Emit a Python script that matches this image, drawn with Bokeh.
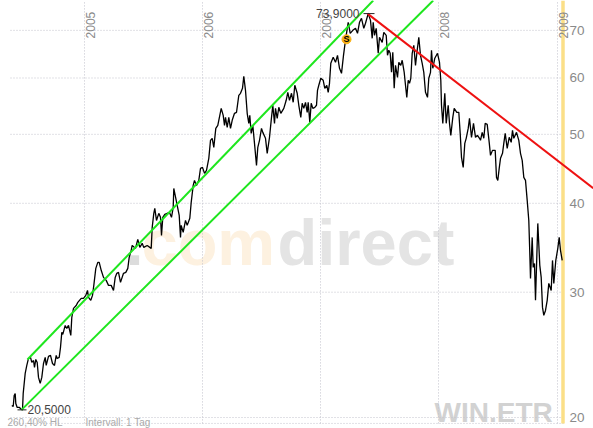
from math import pi
from bokeh.plotting import figure
from bokeh.models import Range1d
from bokeh.core.properties import value
from bokeh.embed import file_html
from bokeh.resources import INLINE

# x axis: chart session number (about 118 sessions per calendar year)
sessions = [
 11.3,12.7,13.7,14.7,15.3,16.7,19,20.7,22,22.7,23.7,24.7,26.3,28,30,31.3,33,34,35.3,36.7,38,39.7,41.3,43,44.7,45.7,48,50,52,54,55.7,56.7,58.7,60,61.3,62.3,64.7,66.3,68,70.3,71.3,73,75.7,77.3,79,80.7,83,85.3,87,88,90.3,92,93.3,95.3,97.3,98.7,100.7,103,105.7,108,110.7,113,114.7,116.3,118,120,123,125.3,127.3,128.7,130.7,
 131.7,135,137.3,139.3,141.7,143.3,146.7,150.7,151.7,153.3,154.3,156,158.3,160,161,162.3,164.3,166.7,169,171,172.7,173.3,174.7,176.7,178.7,180,180.7,182.7,185,186.7,189.3,190.7,192.7,194,196,198.3,200,202,204,206,208.3,210,211.7,213.3,215.3,217.3,218.7,220.7,222.7,224,225,226.7,228.3,230,231.7,234,236,238.3,240,242,243.3,245,246.7,248.3,249.3,250.7,252.3,254,256,257.3,
 259,261,262.3,265,266.7,269,270.7,272.3,274,275,276.7,278.3,280.3,283.3,285.7,287.3,289,291,292.7,294.3,296.7,298.3,300.3,301.7,303.3,305,306.7,307.7,309.3,310.7,312.3,314.3,316,317,318.3,320.3,322.7,324.3,326.3,327.7,329,330.3,332.7,335,337,339,341,343,344.3,345.7,347.7,349.7,352.3,355,357,359,361,363.3,365,367.7,370,371.7,372.7,374,375.7,377.7,379,
 381.7,383.3,385.7,387,388.3,389.7,391,392.3,393.7,395,397,398.3,400.3,401.7,403.7,405,406.3,407.7,409,410.3,411.7,413.3,415,416.7,418.3,420,421.7,423.3,425,427,428.3,430,431,432.3,434.3,437,439,440.3,441,442.3,444.3,445.7,447.7,449,450.3,452.3,453.7,456.3,458.3,459.7,461,462.7,464.3,465.7,467.7,469,471,473,475,477,479,
 480,481.7,483.3,484.7,486.7,488.7,490,492,494.7,496,497.3,498.7,500,502,503.3,504.7,506.7,508.7,510.7,512,513.3,516,518.3,520,521.7,523.3,525,526.7,528.3,529.3,530,531.7,532.7,534,535,537.3,539.3,540.7,542,543.3,545,546.7,548.3,550.7,552,553.3,555.3,557.3,558.7,560,561.7,
]
prices = [
 20.79,20.72,21.48,21.62,20.93,20.66,20.66,20.53,20.50,21.62,22.33,23.07,23.67,24.21,24.29,23.90,24.05,23.52,24.13,23.90,22.77,22.33,22.77,23.82,24.29,23.67,24.37,24.45,23.82,23.67,24.45,24.21,24.29,25.09,26.34,26.17,26.94,26.68,26.94,26.09,27.65,28.47,28.74,29.03,29.22,29.41,29.41,29.69,30.17,29.50,29.22,29.69,30.67,32.40,33.04,33.04,32.20,31.47,31.17,30.67,30.67,30.17,31.47,31.89,31.99,30.97,31.89,31.99,32.40,33.58,34.35,
 34.90,34.57,35.59,34.68,35.14,34.68,34.90,34.57,37.00,38.72,39.34,37.84,38.72,38.22,36.05,38.22,38.59,38.72,38.84,38.22,39.47,41.97,41.04,39.73,38.47,35.82,37.24,36.41,37.84,37.24,38.10,40.12,42.38,43.08,42.38,43.08,44.79,44.93,44.07,44.50,46.26,49.04,49.36,47.94,50.97,51.47,52.66,54.39,53.17,51.47,52.83,51.14,52.83,50.97,52.32,53.52,53.69,56.72,57.10,58.03,60.33,57.65,53.52,51.81,53.17,50.16,51.47,48.56,45.22,47.94,
 49.04,50.97,50.32,49.36,47.02,49.52,52.32,54.93,51.81,54.39,52.66,54.57,53.52,54.39,55.82,57.28,55.82,57.10,55.46,58.60,57.10,54.93,52.83,55.28,54.39,55.46,53.69,55.46,51.98,55.28,54.39,54.57,54.93,57.65,58.60,59.94,59.55,58.03,58.60,57.28,58.98,62.92,64.15,63.12,64.57,61.91,60.91,64.57,66.69,68.88,71.85,69.33,70.00,70.46,69.33,71.85,72.79,70.46,71.62,73.90,72.30,68.22,71.85,68.88,70.46,64.99,68.44,
 67.34,69.56,68.88,64.57,65.63,64.99,61.11,65.20,58.03,62.51,60.13,63.12,62.51,63.54,61.11,58.60,56.36,59.55,58.98,59.94,64.99,66.69,62.51,65.63,68.44,64.57,62.92,61.11,57.28,56.36,59.94,61.11,65.63,61.91,63.96,64.99,63.12,59.55,54.93,51.81,57.10,51.81,54.93,51.81,49.84,52.83,54.39,53.69,53.69,50.16,46.41,44.93,48.56,49.36,50.97,52.66,49.52,51.81,49.52,49.84,49.36,
 49.04,50.32,49.36,51.81,51.64,48.72,46.71,47.47,47.47,43.50,43.08,44.79,46.26,47.02,48.56,50.16,47.79,49.52,48.72,50.65,49.36,50.32,49.04,47.02,45.96,43.50,43.08,40.38,37.84,34.02,31.37,35.82,32.51,32.93,29.22,37.48,32.72,31.47,28.56,27.83,28.28,29.22,30.87,30.17,33.25,30.87,33.25,34.57,35.82,34.35,33.25,
]

year_sessions = [84, 202, 320, 438, 557]
year_labels = ["2005", "2006", "2007", "2008", "2009"]
price_ticks = [20, 30, 40, 50, 60, 70]
price_labels = ["20", "30", "40", "50", "60", "70"]

# trend lines: (session, price) pairs
upper_channel = ([27, 372.7], [24.13, 77.1])
lower_channel = ([21, 432.7], [20.50, 77.1])
down_trend = ([367, 592.7], [73.90, 42.0])

high_marker = ([363, 374], [73.90, 73.90])
low_marker = ([17, 26], [20.50, 20.50])
low_label = "20,5000"
high_label = "73,9000"
signal = (346, 68.0)
status_left = "260,40% HL"
status_right = "Intervall: 1 Tag"
symbol = "WIN.ETR"

GRID = "#c2c2cc"
LABEL = "#8a8a8a"
FONT = value("Liberation Sans")
TOP = 77.1
BOTTOM = 19.30

p = figure(width=593, height=428, x_range=Range1d(0, 593), y_range=Range1d(BOTTOM, TOP),
           y_axis_type="log", x_axis_location=None, y_axis_location=None,
           toolbar_location=None, output_backend="svg", min_border=0,
           outline_line_color=None, background_fill_color="white", border_fill_color="white")
p.grid.visible = False

# watermark
p.text(x=[125], y=[35.24], text=["."], text_font=FONT, text_font_style="bold", text_font_size="65px",
       text_color="#dcdcdc", text_baseline="alphabetic", text_align="left")
p.text(x=[141], y=[35.24], text=["com"], text_font=FONT, text_font_style="bold", text_font_size="65px",
       text_color="#fdf1e0", text_baseline="alphabetic", text_align="left")
p.text(x=[277], y=[35.24], text=["direct"], text_font=FONT, text_font_style="bold", text_font_size="65px",
       text_color="#e4e4e4", text_baseline="alphabetic", text_align="left")
p.text(x=[434], y=[20.33], text=[symbol], text_font=FONT, text_font_style="bold", text_font_size="28px",
       text_color="#d2d2d2", text_baseline="alphabetic", text_align="left")

# grid
bottom = 19.62
p.segment(x0=year_sessions, x1=year_sessions, y0=[bottom] * 5, y1=[TOP] * 5,
          line_color=GRID, line_dash="1 2", line_width=1)
p.segment(x0=[10] * 6, x1=[565] * 6, y0=price_ticks, y1=price_ticks,
          line_color=GRID, line_dash="1 2", line_width=1)
p.segment(x0=[10], x1=[565], y0=[bottom], y1=[bottom], line_color=GRID, line_dash="1 2", line_width=1)
p.segment(x0=[562.5], x1=[562.5], y0=[bottom], y1=[TOP], line_color="#fbdf87", line_width=3.5)

# axis labels
p.text(x=year_sessions, y=[68.2] * 5, text=year_labels, angle=pi / 2, x_offset=6,
       text_font=FONT, text_font_size="12px", text_color=LABEL, text_align="left", text_baseline="middle")
p.text(x=[569] * 6, y=price_ticks, text=price_labels, text_font=FONT, text_font_size="13.5px",
       text_color=LABEL, text_align="left", text_baseline="middle")

# price
p.line(sessions, prices, line_color="black", line_width=1.3)

# trend lines
p.line(*upper_channel, line_color="#1ee61e", line_width=2)
p.line(*lower_channel, line_color="#1ee61e", line_width=2)
p.line(*down_trend, line_color="#ee1111", line_width=2)

# extremes
p.line(*high_marker, line_color="#222222", line_width=1)
p.line(*low_marker, line_color="#222222", line_width=1)
p.text(x=[359], y=[73.90], text=[high_label], text_font=FONT, text_font_size="12px", text_color="#444444",
       text_align="right", text_baseline="middle")
p.text(x=[27], y=[20.50], text=[low_label], text_font=FONT, text_font_size="12px", text_color="#444444",
       text_align="left", text_baseline="middle")

# signal marker
p.scatter(x=[signal[0]], y=[signal[1]], size=9, marker="circle", fill_color="#f9b115", line_color="#f9b115")
p.text(x=[signal[0]], y=[signal[1]], text=["S"], text_font=FONT, text_font_style="bold", text_font_size="9px",
       text_color="black", text_align="center", text_baseline="middle")

# status line at the lower edge
p.text(x=[7], y=[BOTTOM], text=[status_left], y_offset=-1, text_font=FONT, text_font_size="10px",
       text_color="#aaaaaa", text_align="left", text_baseline="bottom")
p.text(x=[85], y=[BOTTOM], text=[status_right], y_offset=-1, text_font=FONT, text_font_size="10px",
       text_color="#aaaaaa", text_align="left", text_baseline="bottom")

html = file_html(p, INLINE)
open("out.html", "w").write(html)
